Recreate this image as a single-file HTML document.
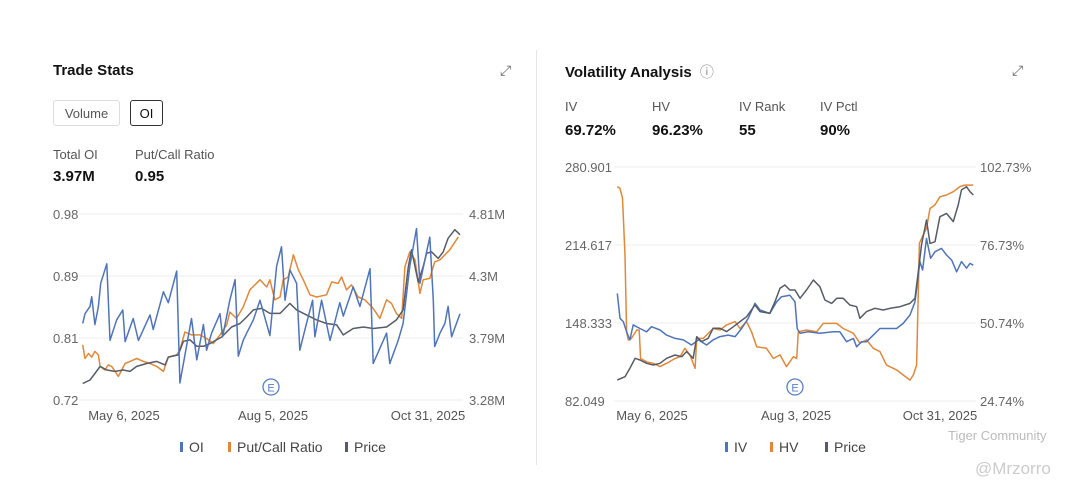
<!DOCTYPE html>
<html><head><meta charset="utf-8">
<style>
body{margin:0;width:1080px;height:495px;background:#fff;font-family:"Liberation Sans",sans-serif;color:#222;position:relative;overflow:hidden}
.a{position:absolute;white-space:nowrap}
.t{font-size:15px;font-weight:bold;color:#111}
.lb{font-size:13px;color:#555}
.v{font-size:15px;font-weight:bold;color:#111}
.btn{border:1px solid #ddd;border-radius:3px;font-size:13px;color:#555;height:26px;line-height:26px;text-align:center;box-sizing:border-box}
svg text{font-family:"Liberation Sans",sans-serif}
</style></head><body>
<div class="a" style="left:536px;top:50px;width:1px;height:415px;background:#e6e6e6"></div>
<div class="a t" style="left:53px;top:62px">Trade Stats</div>
<div class="a" style="left:500px;top:62px;font-size:14px;color:#666">⤢</div>
<div class="a btn" style="left:53px;top:100px;width:67px">Volume</div>
<div class="a btn" style="left:130px;top:100px;width:33px;border-color:#333;color:#111">OI</div>
<div class="a lb" style="left:53px;top:147px">Total OI</div>
<div class="a v" style="left:53px;top:168px">3.97M</div>
<div class="a lb" style="left:135px;top:147px">Put/Call Ratio</div>
<div class="a v" style="left:135px;top:168px">0.95</div>

<div class="a t" style="left:565px;top:62px">Volatility Analysis <span style="font-weight:normal;color:#888;font-size:14px;margin-left:4px">ⓘ</span></div>
<div class="a" style="left:1012px;top:62px;font-size:14px;color:#666">⤢</div>
<div class="a lb" style="left:565px;top:99px">IV</div>
<div class="a v" style="left:565px;top:122px">69.72%</div>
<div class="a lb" style="left:652px;top:99px">HV</div>
<div class="a v" style="left:652px;top:122px">96.23%</div>
<div class="a lb" style="left:739px;top:99px">IV Rank</div>
<div class="a v" style="left:739px;top:122px">55</div>
<div class="a lb" style="left:820px;top:99px">IV Pctl</div>
<div class="a v" style="left:820px;top:122px">90%</div>

<svg class="a" style="left:0;top:0" width="1080" height="495" id="svg"></svg>
<div class="a" style="left:948px;top:428px;font-size:13px;color:#bbb">Tiger Community</div>
<div class="a" style="left:975px;top:459px;font-size:17px;color:#ccc">@Mrzorro</div>
<script>
const oiDays=[0,0.8,2.5,3.1,4.2,5.4,6.2,8.3,9.4,11.7,13.8,14.6,17.4,19.2,23.2,24.3,27.8,29.5,32.4,33.5,37.5,39.3,41.6,42.7,44.4,47.3,48.2,50.7,52.5,53.6,55.3,56.5,58.8,61.1,64.5,66.8,68.5,69.7,71.4,73.7,74.8,77.1,79.2,80,82.3,85.2,88.6,89.8,93.2,95.5,99,100.1,104.7,105.8,108.7,110.4,112.7,115,116.2,119.6,120.8,121.3,123.1,124.8,125.9,127.1,130];
const oiVals=[3.91,3.99,4.05,4.13,3.90,4.05,4.24,4.40,3.77,3.94,4.02,3.76,3.95,3.77,3.98,3.86,4.17,4.08,4.34,3.42,3.95,3.61,3.90,3.69,3.83,3.99,3.80,4.10,4.27,3.64,3.77,3.83,3.94,4.10,3.81,4.38,4.54,4.10,4.35,4.24,3.69,3.91,4.10,3.80,4.10,3.77,4.08,3.97,4.21,4.05,4.36,3.58,3.83,3.58,3.77,3.91,4.38,4.69,4.24,4.62,4.10,3.72,3.83,3.91,4.05,3.80,3.99];
const pcDays=[0,0.8,2,3.1,4.2,5.4,6,7.7,8.8,10,12.3,14.6,16.3,18.6,20.9,23.2,25.5,27.8,29.5,32.4,33.5,35.2,37.5,40.4,42.7,45,47.3,49.6,50.7,53,55.3,57.6,61.1,63.4,64.5,66.2,68,69.1,70.8,72.6,74.3,76,78.3,80.6,84,85.8,88,89.2,90.9,92.6,94.9,97.2,100.1,102.4,104.7,106.4,108.1,109.9,111,112.7,114.5,116.2,117.3,119.6,121.3,123.1,126.5,129.4];
const pcVals=[.797,.778,.785,.780,.788,.783,.767,.762,.769,.767,.753,.771,.774,.778,.774,.771,.767,.760,.780,.783,.790,.815,.811,.811,.806,.799,.811,.825,.843,.834,.850,.874,.888,.878,.888,.860,.864,.888,.892,.923,.902,.888,.867,.864,.867,.885,.883,.892,.874,.881,.864,.860,.848,.834,.860,.855,.841,.834,.906,.927,.916,.869,.888,.890,.913,.916,.930,.948];
const pxDays=[0,2.5,4.2,6,8.3,11.1,14,16.3,18.6,22,25.5,28.4,29.5,32.9,34.7,37,39.3,41.6,43.9,46.1,47.9,51.3,54.2,56.5,58.8,61.6,64.5,68,71.4,73.7,77.1,80.6,84,87.5,89.8,93.2,96.7,100.1,104.7,108.1,110.4,112.2,113.3,115.6,117.3,118.5,120.2,122.5,124.2,125.9,128.2,130];
const pxVals=[.743,.748,.757,.767,.762,.760,.762,.760,.767,.771,.774,.769,.780,.783,.802,.804,.795,.795,.799,.804,.808,.822,.827,.836,.846,.848,.841,.841,.855,.846,.839,.832,.827,.825,.811,.820,.822,.820,.822,.832,.846,.906,.930,.885,.906,.925,.927,.918,.927,.946,.958,.951];
const leftTicks=["0.98","0.89","0.81","0.72"];
const rightTicks=["4.81M","4.3M","3.79M","3.28M"];
const xTicksL=["May 6, 2025","Aug 5, 2025","Oct 31, 2025"];

const ivDays=[0,1,2.2,3.4,4.6,5.8,8.3,10.7,12.5,15.6,18,21.1,24.1,27.1,29.6,32.6,35,37.5,40.5,43,45.4,47.8,50.3,52.1,55.7,58.2,60,63,64.9,65.7,66.7,69.7,74,78.9,81.3,83.7,86.2,87.4,89.2,91,93.5,95.9,99.6,102,104.4,106.9,108.7,110.5,111.5,112.9,114.4,116,118.4,120.2,122.1,123.9,125.7,127.5,128.8,130];
const ivVals=[60.6,52.3,51.2,47.8,45.1,50.1,48.9,47.8,49.5,48.4,46.7,45.6,45.1,43.4,45.1,43.4,45.1,46.2,46.7,46.2,48.9,52.3,57.3,55.1,53.9,57.8,59.5,60.0,57.8,48.9,47.3,47.8,47.3,47.8,47.8,44.5,45.6,42.8,44.5,44.5,46.7,48.9,48.9,48.9,50.6,53.4,57.8,71.2,68.4,78.9,72.3,74.5,75.6,73.4,71.7,67.8,71.2,69.0,70.6,70.0];
const hvDays=[0,1,1.9,2.8,3.4,4,5.2,7.1,8,8.5,10.7,13.1,15.6,18,21.1,22.9,24.7,26.5,28.4,29,31.4,35,37.5,39.9,43,44.8,47.2,49,50.9,54.5,57,59.4,61.8,64.3,65.5,66.1,69.1,72.8,75.2,77.6,80.1,82.5,86.2,88.6,91,93.5,95.9,98.3,102,104.4,106.9,108.1,109.3,110.3,111.7,112.9,114.2,116,117.8,120.2,122.7,125.1,126.9,130];
const hvVals=[96.2,95.6,92.3,73.4,47.8,45.1,45.6,48.4,48.4,38.9,37.8,37.3,36.2,37.3,38.9,39.5,42.3,40.1,35.6,45.6,45.6,48.9,48.4,50.1,51.2,48.9,51.2,47.8,42.8,42.3,38.9,40.1,36.2,39.5,38.9,47.8,48.4,47.8,50.6,50.6,50.6,48.9,47.3,44.0,45.1,42.3,41.2,36.7,35.1,33.4,31.7,33.4,36.7,77.3,80.1,82.3,88.9,90.1,92.8,93.4,94.5,96.2,96.7,96.7];
const priceDays=[0,2.8,4.6,6.5,8.3,10.7,13.1,15.6,18,21.1,23.5,25.3,27.7,29,30.8,33.2,35,37.5,39.9,42.4,44.8,47.2,50.3,52.1,55.7,57.6,59.4,61.2,63,64.9,66.7,69.1,71.6,74,75.8,78.3,80.1,82.5,84.9,87.4,88.6,91,94.1,97.1,99.6,103.2,106.9,108.7,109.9,111.1,112.9,114.2,116,117.8,120.2,122.7,124.5,125.7,127.5,128.8,130];
const priceVals=[99.9,102.7,109.8,118.3,116.9,114.1,112.6,114.1,118.3,121.1,119.7,124.0,118.3,136.7,132.5,135.3,143.8,143.8,141.0,145.2,149.5,153.7,163.6,158.0,156.6,166.5,177.8,180.6,176.4,176.4,169.3,176.4,184.9,179.2,167.9,165.0,169.3,169.3,163.6,162.2,152.3,158.0,160.8,159.4,160.8,162.2,165.0,169.3,192.0,214.6,235.9,216.0,217.4,238.7,241.5,234.5,248.6,261.4,264.2,259.9,257.1];
const vLeftTicks=["280.901","214.617","148.333","82.049"];
const vRightTicks=["102.73%","76.73%","50.74%","24.74%"];
const xTicksR=["May 6, 2025","Aug 3, 2025","Oct 31, 2025"];

const NS="http://www.w3.org/2000/svg",svg=document.getElementById('svg');
function mk(t,a,txt){const e=document.createElementNS(NS,t);for(const k in a)e.setAttribute(k,a[k]);if(txt!=null)e.textContent=txt;svg.appendChild(e);return e;}
function lin(d0,d1,r0,r1){return v=>r0+(v-d0)/(d1-d0)*(r1-r0);}
function line(days,vals,xs,ys,col,name){
  const p=days.map((d,i)=>(i?'L':'M')+xs(d).toFixed(1)+','+ys(vals[i]).toFixed(1)).join('');
  const e=mk('path',{d:p,fill:'none',stroke:col,'stroke-width':1.5,'stroke-linejoin':'round'});
  
  
}
function frame(x0,x1,top,bot,lt,rt,lx,rx,xt,xtPos,pre){
  for(let i=0;i<4;i++){const y=top+(bot-top)*i/3;
    const g=mk('line',{x1:x0-3,x2:x1+3,y1:y,y2:y,stroke:'#eee','stroke-width':1});
    
    
    const a=mk('text',{x:lx,y:y+5,'font-size':13,fill:'#666'},lt[i]);
    
    
    const b=mk('text',{x:rx,y:y+5,'font-size':13,fill:'#666'},rt[i]);
    
    }
  xt.forEach((s,i)=>{const e=mk('text',{x:xtPos[i],y:420,'font-size':13,fill:'#555','text-anchor':'middle'},s);
    
    });
}
function marker(x,pre){const c=mk('circle',{cx:x,cy:387,r:8,fill:'#fff',stroke:'#5a7fbf','stroke-width':1.3});
  
  
  mk('text',{x:x,y:391.5,'font-size':11,fill:'#5a7fbf','text-anchor':'middle'},'E');}
function legend(items,pre){items.forEach(([x,col,txt])=>{
  const r=mk('rect',{x:x,y:442,width:3,height:10,fill:col});
  const t=mk('text',{x:x+9,y:452,'font-size':14,fill:'#444'},txt);
  
  });}
const BLUE='#4f74b8',ORANGE='#e0883a',GRAY='#565c66';
// left chart
frame(82,460,214,400,leftTicks,rightTicks,53,469,xTicksL,[124,273,428],'trade');
const xL=lin(0,130,82.7,460);
const yL=lin(0.72,0.98,400,214), yR=lin(3.28,4.81,400,214);
line(pcDays,pcVals,xL,yL,ORANGE,'put-call-line');
line(pxDays,pxVals,xL,yL,GRAY,'price-line-left');
line(oiDays,oiVals,xL,yR,BLUE,'oi-line');
marker(271,'trade');
legend([[180,BLUE,'OI'],[228,ORANGE,'Put/Call Ratio'],[345,GRAY,'Price']],'trade');
// right chart
frame(617,973,167,401,vLeftTicks,vRightTicks,565,980,xTicksR,[652,796,940],'vol');
const xR=lin(0,130,617.3,973.3);
const yPL=lin(82.049,280.901,401,167), yPct=lin(24.74,102.73,401,167);
line(hvDays,hvVals,xR,yPct,ORANGE,'hv-line');
line(ivDays,ivVals,xR,yPct,BLUE,'iv-line');
line(priceDays,priceVals,xR,yPL,GRAY,'price-line-right');
marker(795,'vol');
legend([[725,BLUE,'IV'],[770,ORANGE,'HV'],[825,GRAY,'Price']],'vol');
</script>
</body></html>
